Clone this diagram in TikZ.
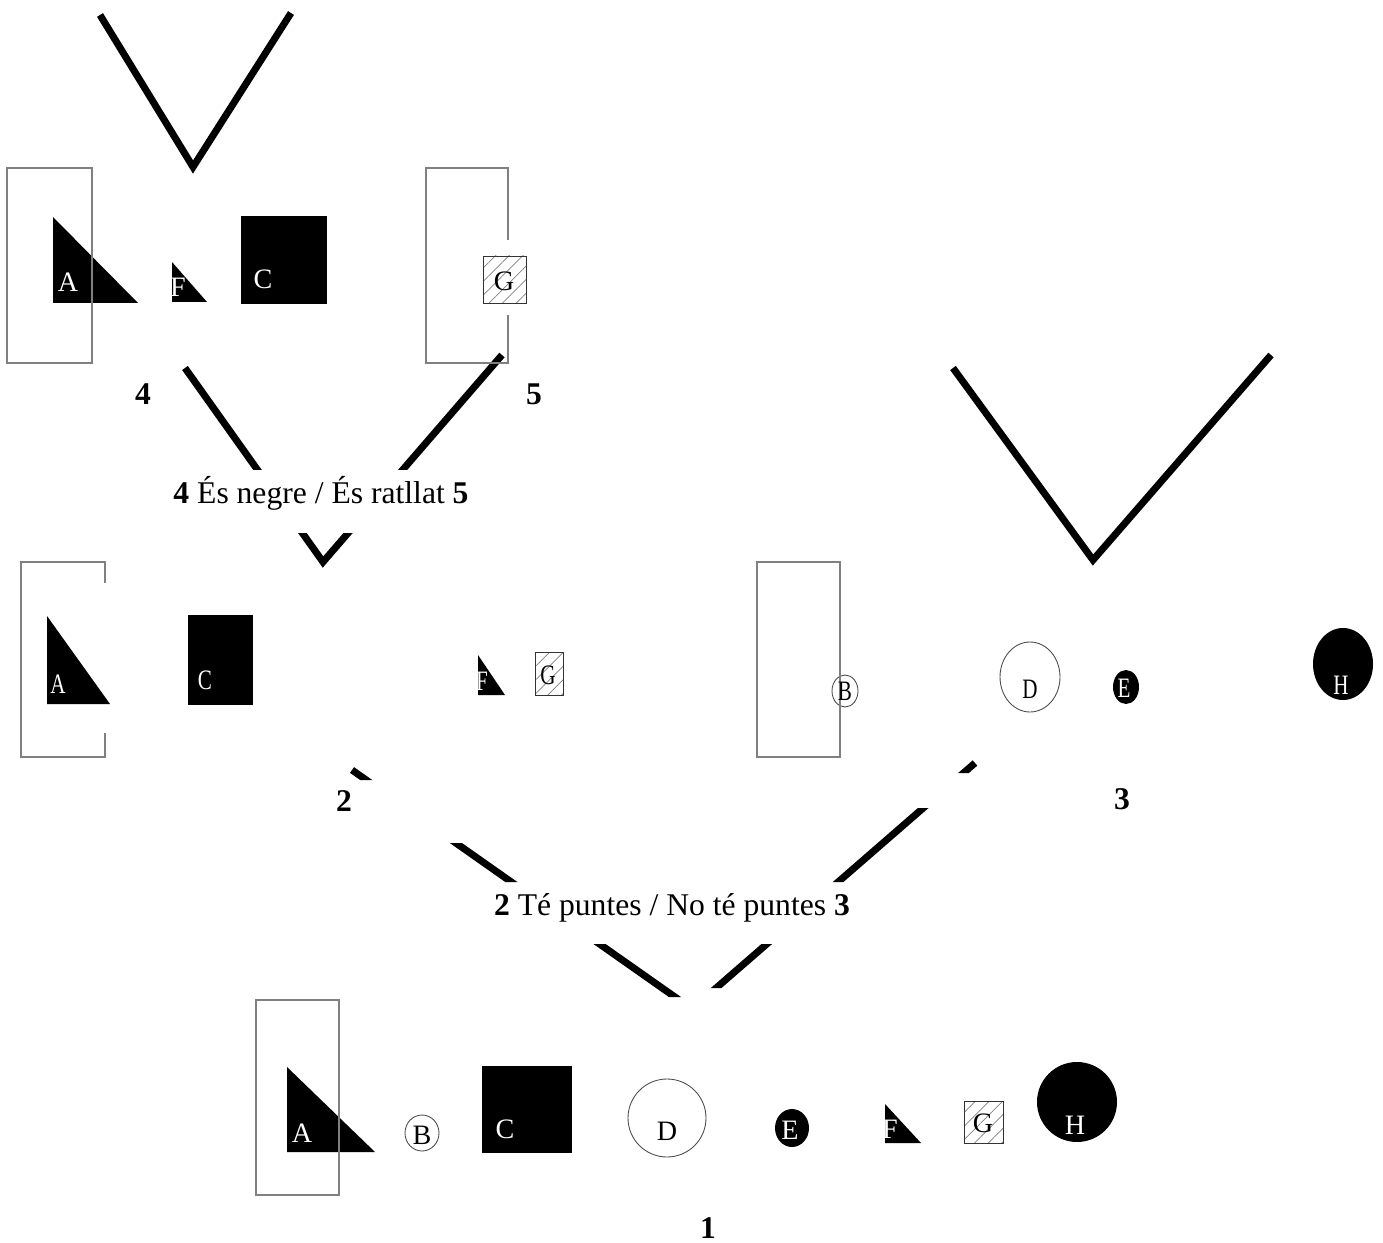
\documentclass[tikz,border=0pt]{standalone}
\usepackage{fontspec}
\setmainfont{Liberation Serif}
\usetikzlibrary{patterns.meta}
\begin{document}
\begin{tikzpicture}[x=0.02cm,y=-0.02cm,
  frame/.style={draw=gray,line width=1pt},
  funnel/.style={line width=4pt},
  ring/.style={draw=black!70,line width=0.5pt},
  hatchbox/.style={draw=black!80,line width=0.5pt,pattern={Lines[angle=45,distance=5.5pt,line width=0.4pt]},pattern color=gray},
  lbl/.style={inner sep=0pt,font=\fontsize{16}{18}\selectfont},
  wlbl/.style={lbl,text=white},
  thin/.style={xscale=0.75},
  num/.style={inner sep=0pt,font=\fontsize{18}{20}\selectfont\bfseries},
  question/.style={inner sep=0pt,anchor=base,font=\fontsize{18}{20}\selectfont}]
\useasboundingbox (0,0) rectangle (1383,1243);

\draw[funnel] (100,15) -- (193,167) -- (291,13);
\begin{scope}
\clip (150,340) rectangle (530,470) (150,533) rectangle (530,580);
\draw[funnel] (185,368) -- (323,562) -- (502,355);
\end{scope}
\draw[funnel] (953,368) -- (1093,560) -- (1271,355);
\begin{scope}
\clip (300,760) rectangle (692,780) (300,843) rectangle (692,882) (300,944) rectangle (692,997)
      (692,755) rectangle (1000,773) (692,808) rectangle (1000,882) (692,944) rectangle (1000,988);
\draw[funnel] (352,770) -- (692,1009) -- (975,763);
\end{scope}

\fill (53,217) -- (53,303) -- (138,303) -- cycle;
\fill (172,262) -- (172,302) -- (207,302) -- cycle;
\fill (241,216) rectangle (327,304);
\draw[hatchbox] (483,256) rectangle (526,303);
\draw[frame] (7,168) rectangle (92,363);
\draw[frame] (508,240) -- (508,168) -- (426,168) -- (426,363) -- (508,363) -- (508,315);
\node[wlbl] (A4) at (68,282) {A};
\node[wlbl] (F4) at (178,287) {F};
\node[wlbl] (C4) at (263,279) {C};
\node[lbl] (G5) at (504,281) {G};
\node[num] (n4) at (143,394) {4};
\node[num] (n5) at (534,394) {5};
\node[question] (q45) at (321,503) {\textbf{4} És negre / És ratllat \textbf{5}};

\fill (47,616) -- (47,704) -- (110,704) -- cycle;
\fill (188,615) rectangle (253,705);
\fill (478,655) -- (478,695) -- (505,695) -- cycle;
\draw[hatchbox] (535,652) rectangle (563,695);
\draw[frame] (105,583) -- (105,562) -- (21,562) -- (21,757) -- (105,757) -- (105,733);
\node[wlbl,thin] (A2) at (58,684) {A};
\node[wlbl,thin] (C2) at (205,680) {C};
\node[wlbl,thin] (F2) at (482,681) {F};
\node[lbl,thin] (G2) at (548,675) {G};

\draw[ring] (845,691) ellipse [x radius=13,y radius=16];
\draw[ring] (1030,677) ellipse [x radius=30,y radius=35];
\fill (1126,687) ellipse [x radius=13,y radius=17];
\fill (1343,664) ellipse [x radius=30,y radius=36];
\draw[frame] (757,562) rectangle (840,757);
\node[lbl,thin] (B3) at (845,691) {B};
\node[lbl,thin] (D3) at (1030,689) {D};
\node[wlbl,thin] (E3) at (1124,688) {E};
\node[wlbl,thin] (H3) at (1341,685) {H};
\node[num] (n2) at (344,801) {2};
\node[num] (n3) at (1122,799) {3};
\node[question] (q23) at (672,915) {\textbf{2} Té puntes / No té puntes \textbf{3}};

\fill (287,1067) -- (287,1152) -- (375,1152) -- cycle;
\draw[ring] (422,1133) ellipse [x radius=17,y radius=18];
\fill (482,1066) rectangle (572,1153);
\draw[ring] (667,1118) ellipse [x radius=39,y radius=39];
\fill (792,1128) ellipse [x radius=17,y radius=19];
\fill (885,1104) -- (885,1143) -- (921,1143) -- cycle;
\draw[hatchbox] (964,1101) rectangle (1003,1143);
\fill (1077,1102) ellipse [x radius=40,y radius=40];
\draw[frame] (256,1000) rectangle (339,1195);
\node[wlbl] (A1) at (302,1133) {A};
\node[lbl] (B1) at (422,1135) {B};
\node[wlbl] (C1) at (505,1129) {C};
\node[lbl] (D1) at (667,1131) {D};
\node[wlbl] (E1) at (790,1130) {E};
\node[wlbl] (F1) at (890,1129) {F};
\node[lbl] (G1) at (983,1123) {G};
\node[wlbl] (H1) at (1075,1125) {H};
\node[num] (n1) at (708,1228) {1};
\end{tikzpicture}
\end{document}
